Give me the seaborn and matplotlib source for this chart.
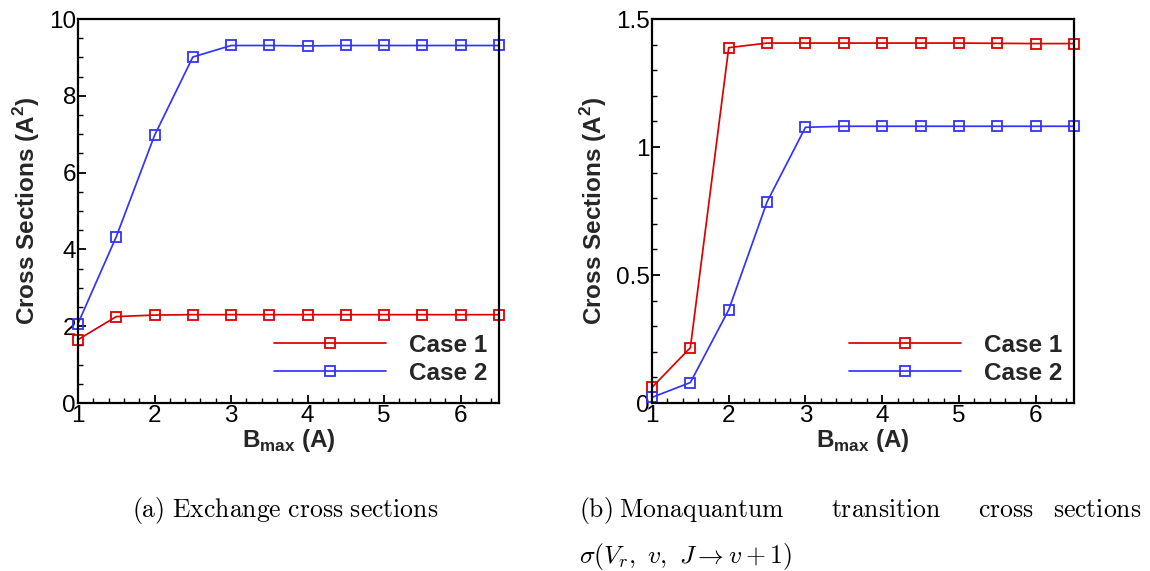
import numpy as np
import pandas as pd
import matplotlib
matplotlib.use("Agg")
import matplotlib.pyplot as plt
import seaborn as sns

# ---- data ----
bmax = [1.0, 1.5, 2.0, 2.5, 3.0, 3.5, 4.0, 4.5, 5.0, 5.5, 6.0, 6.5]
exch_case1 = [1.65, 2.25, 2.29, 2.30, 2.30, 2.30, 2.30, 2.30, 2.30, 2.30, 2.30, 2.30]
exch_case2 = [2.07, 4.33, 6.97, 9.01, 9.31, 9.31, 9.30, 9.31, 9.31, 9.31, 9.31, 9.31]
mono_case1 = [0.061, 0.216, 1.388, 1.406, 1.406, 1.406, 1.406, 1.406, 1.406, 1.405, 1.404, 1.404]
mono_case2 = [0.022, 0.080, 0.364, 0.786, 1.077, 1.081, 1.081, 1.081, 1.081, 1.081, 1.081, 1.081]
case_labels = ["Case 1", "Case 2"]
case_colors = ["#dd0000", "#3333ff"]
xticks = [1, 2, 3, 4, 5, 6]
xticklabels = ["1", "2", "3", "4", "5", "6"]
yticks_a = [0, 2, 4, 6, 8, 10]
yticklabels_a = ["0", "2", "4", "6", "8", "10"]
yticks_b = [0, 0.5, 1.0, 1.5]
yticklabels_b = ["0", "0.5", "1", "1.5"]

sns.set_theme(style="white")
plt.rcParams["font.family"] = ["Liberation Sans", "DejaVu Sans"]

W, H = 1150, 571
fig = plt.figure(figsize=(W / 100, H / 100), dpi=100)

def px_axes(l, r, t, b):
    return fig.add_axes([l / W, 1 - b / H, (r - l) / W, (b - t) / H])

ax1 = px_axes(78, 499, 19, 403)
ax2 = px_axes(652, 1074, 19, 403)

def draw(ax, series, yticks, yticklabels, ylim, yminor):
    for vals, lab, col in zip(series, case_labels, case_colors):
        df = pd.DataFrame({"x": bmax, "y": vals})
        sns.lineplot(data=df, x="x", y="y", ax=ax, color=col, label=lab,
                     marker="s", markersize=7.5, markerfacecolor="none",
                     markeredgecolor=col, markeredgewidth=1.3, linewidth=1.25,
                     clip_on=False, zorder=3)
    ax.set_xlim(1, 6.5)
    ax.set_ylim(*ylim)
    ax.set_xticks(xticks)
    ax.set_xticklabels(xticklabels)
    ax.set_yticks(yticks)
    ax.set_yticklabels(yticklabels)
    ax.set_xticks(np.arange(1, 6.5001, 0.2), minor=True)
    ax.set_yticks(np.arange(ylim[0], ylim[1] + 1e-9, yminor), minor=True)
    ax.tick_params(axis="both", which="major", direction="in", length=6, width=1.3,
                   labelsize=17.5, color="black", labelcolor="black",
                   bottom=True, left=True, top=False, right=False)
    ax.tick_params(axis="both", which="minor", direction="in", length=3.5, width=1.0,
                   color="black", bottom=True, left=True, top=False, right=False)
    ax.tick_params(axis="x", which="major", pad=1.5)
    ax.tick_params(axis="y", which="major", pad=1.5)
    for s in ax.spines.values():
        s.set_linewidth(1.6)
        s.set_color("black")
        s.set_zorder(4)
    ax.set_xlabel(r"B$_{\mathregular{max}}$ (A)", fontsize=17.5, fontweight="bold",
                  labelpad=0)
    ax.set_ylabel(r"Cross Sections (A$^{\mathregular{2}}$)", fontsize=17.5,
                  fontweight="bold", labelpad=5)
    ax.grid(False)
    ax.legend(loc="lower right", bbox_to_anchor=(0.972, 0.048),
              frameon=False, handlelength=4.6, handletextpad=0.95,
              labelspacing=0.2, borderaxespad=0, borderpad=0,
              prop={"weight": "bold", "size": 17.5, "family": "Liberation Sans"})

draw(ax1, [exch_case1, exch_case2], yticks_a, yticklabels_a, (0, 10), 0.5)
draw(ax2, [mono_case1, mono_case2], yticks_b, yticklabels_b, (0, 1.5), 0.1)

cap_kw = dict(fontsize=18.5, math_fontfamily="cm", va="center", color="black")
fig.text(285 / W, 1 - 510 / H, r"$\mathrm{(a)\ Exchange\ cross\ sections}$",
         ha="center", **cap_kw)
words_b = [r"$\mathrm{(b)}$", r"$\mathrm{Monaquantum}$", r"$\mathrm{transition}$",
           r"$\mathrm{cross}$", r"$\mathrm{sections}$"]
word_x = [579, 619, 831, 978, 1141]
for i, (w, x) in enumerate(zip(words_b, word_x)):
    fig.text(x / W, 1 - 510 / H, w, ha="right" if i == len(words_b) - 1 else "left",
             **cap_kw)
fig.text(579 / W, 1 - 557 / H, r"$\sigma(V_r,\ v,\ J \rightarrow v + 1)$",
         ha="left", **cap_kw)

fig.savefig("out.png", dpi=100, facecolor="white")
